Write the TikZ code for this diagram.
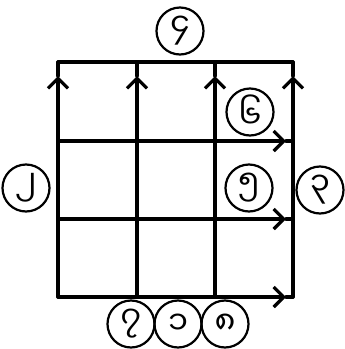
\documentclass[tikz,border=0pt]{standalone}
\usepackage{fontspec}
\newfontfamily\mmfont[Script=Myanmar]{Noto Sans Myanmar UI}
\usetikzlibrary{arrows.meta}
\tikzset{
  numcirc/.style={draw, circle, line width=2.2pt, minimum size=47pt, inner sep=0pt,
    font=\mmfont\fontsize{32}{32}\selectfont},
  gridline/.style={line width=3.2pt, line cap=round}
}
\begin{document}
\begin{tikzpicture}[x=1pt, y=-1pt, >={Straight Barb[length=10pt, width=20pt]}]
  \useasboundingbox (0,0) rectangle (345,349);
  % grid points
  \foreach \i/\x in {0/58, 1/137, 2/215, 3/293} {
    \coordinate (t\i) at (\x,62);
    \coordinate (a\i) at (\x,76);
    \coordinate (b\i) at (\x,297);
  }
  \foreach \j/\y in {0/62, 1/141, 2/219, 3/297} {
    \coordinate (l\j) at (58,\y);
    \coordinate (h\j) at (286,\y);
    \coordinate (r\j) at (293,\y);
  }
  \draw[gridline] (l0) -- (r0);
  \foreach \i in {0,...,3} {
    \draw[gridline, ->] (b\i) -- (a\i);
    \draw[gridline] (a\i) -- (t\i);
  }
  \foreach \j in {1,2,3} {
    \draw[gridline, ->] (l\j) -- (h\j);
    \draw[gridline] (h\j) -- (r\j);
  }
  % labels
  \node[numcirc] (top) at (180,31) {၄};
  \node[numcirc] (left) at (26,188) {၂};
  \node[numcirc] (right) at (320,190) {၃};
  \node[numcirc] (six) at (250,112) {၆};
  \node[numcirc] (five) at (249,188) {၅};
  \node[numcirc] (seven) at (131,324) {၇};
  \node[numcirc] (one) at (178,324) {၁};
  \node[numcirc] (eight) at (225,324) {၈};
\end{tikzpicture}
\end{document}
